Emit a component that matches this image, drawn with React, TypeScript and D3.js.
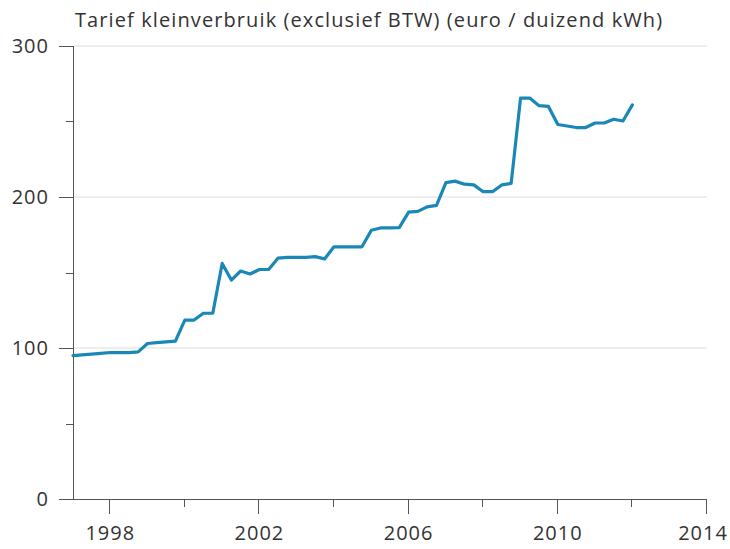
import React from "react";
import * as d3 from "d3";

const title = "Tarief kleinverbruik (exclusief BTW) (euro / duizend kWh)";

const periods = [
  "1997-01", "1997-04", "1997-07", "1997-10",
  "1998-01", "1998-04", "1998-07", "1998-10",
  "1999-01", "1999-04", "1999-07", "1999-10",
  "2000-01", "2000-04", "2000-07", "2000-10",
  "2001-01", "2001-04", "2001-07", "2001-10",
  "2002-01", "2002-04", "2002-07", "2002-10",
  "2003-01", "2003-04", "2003-07", "2003-10",
  "2004-01", "2004-04", "2004-07", "2004-10",
  "2005-01", "2005-04", "2005-07", "2005-10",
  "2006-01", "2006-04", "2006-07", "2006-10",
  "2007-01", "2007-04", "2007-07", "2007-10",
  "2008-01", "2008-04", "2008-07", "2008-10",
  "2009-01", "2009-04", "2009-07", "2009-10",
  "2010-01", "2010-04", "2010-07", "2010-10",
  "2011-01", "2011-04", "2011-07", "2011-10",
  "2012-01",
];

const tariff = [
  95, 95.5, 96, 96.5,
  97, 97, 97, 97.4,
  103, 103.5, 104, 104.5,
  118.5, 118.5, 123, 123,
  156, 145, 151, 149,
  152, 152, 159.5, 160,
  160, 160, 160.5, 159,
  167, 167, 167, 167,
  178, 179.5, 179.5, 179.7,
  190, 190.5, 193.5, 194.5,
  209.5, 210.5, 208.5, 208,
  203.5, 203.5, 208, 209,
  265.5, 265.5, 260.5, 260,
  248, 247, 246, 246,
  249, 249, 251.5, 250.3,
  261,
];

const yMajorTicks = [0, 100, 200, 300];
const yMinorTicks = [50, 150, 250];
const xMajorYears = [1998, 2002, 2006, 2010, 2014];
const xMinorYears = [2000, 2004, 2008, 2012];
const xDomainYears = [1997, 2014];

const W = 730;
const H = 549;
const M = { left: 73, right: 23, top: 46, bottom: 50 };
const FONT = "'Open Sans', 'DejaVu Sans', sans-serif";
const AXIS = "#555";
const TEXT = "#333";
const LINE = "#1a88b7";

export default function App() {
  const parse = d3.timeParse("%Y-%m");
  const yearDate = (y: number) => new Date(y, 0, 1);
  const data = periods.map((p, i) => ({ date: parse(p) as Date, value: tariff[i] }));

  const x = d3
    .scaleTime()
    .domain([yearDate(xDomainYears[0]), yearDate(xDomainYears[1])])
    .range([M.left, W - M.right]);
  const y = d3.scaleLinear().domain([0, 300]).range([H - M.bottom, M.top]);

  const line = d3
    .line<{ date: Date; value: number }>()
    .x((d) => x(d.date))
    .y((d) => y(d.value))
    .curve(d3.curveLinear);

  const x0 = M.left;
  const x1 = W - M.right;
  const yb = y(0);
  const labelHalf = 24;

  return (
    <svg
      width={W}
      height={H}
      style={{ position: "absolute", left: 0, top: 0, background: "#fff" }}
      fontFamily={FONT}
    >
      <text x={75} y={27} fontSize={20} letterSpacing={1.1} fill={TEXT}>
        {title}
      </text>

      {yMajorTicks
        .filter((t) => t > 0)
        .map((t) => (
          <line key={"g" + t} x1={x0} x2={x1} y1={y(t)} y2={y(t)} stroke="#dcdcdc" strokeWidth={1} />
        ))}

      {/* y axis */}
      <line x1={x0 + 0.5} x2={x0 + 0.5} y1={y(300)} y2={yb} stroke={AXIS} strokeWidth={1} />
      {yMajorTicks.map((t) => (
        <g key={"yt" + t}>
          <line x1={x0 - 14} x2={x0} y1={Math.round(y(t)) + 0.5} y2={Math.round(y(t)) + 0.5} stroke={AXIS} />
          <text x={x0 - 24} y={y(t)} dy="0.36em" textAnchor="end" fontSize={20} letterSpacing={1} fill={TEXT}>
            {t}
          </text>
        </g>
      ))}
      {yMinorTicks.map((t) => (
        <line key={"ym" + t} x1={x0 - 7} x2={x0} y1={Math.round(y(t)) + 0.5} y2={Math.round(y(t)) + 0.5} stroke={AXIS} />
      ))}

      {/* x axis */}
      <line x1={x0} x2={x1} y1={yb + 0.5} y2={yb + 0.5} stroke={AXIS} strokeWidth={1} />
      {xMajorYears.map((yr) => {
        const px = x(yearDate(yr));
        const lx = Math.min(px, W - 3 - labelHalf);
        return (
          <g key={"xt" + yr}>
            <line
              x1={Math.round(px) - 0.5}
              x2={Math.round(px) - 0.5}
              y1={yb}
              y2={yb + 15}
              stroke={AXIS}
            />
            <text x={lx} y={yb + 41} textAnchor="middle" fontSize={20} letterSpacing={1} fill={TEXT}>
              {yr}
            </text>
          </g>
        );
      })}
      {xMinorYears.map((yr) => (
        <line
          key={"xm" + yr}
          x1={Math.round(x(yearDate(yr))) - 0.5}
          x2={Math.round(x(yearDate(yr))) - 0.5}
          y1={yb}
          y2={yb + 8}
          stroke={AXIS}
        />
      ))}

      <path
        d={line(data) || ""}
        fill="none"
        stroke={LINE}
        strokeWidth={3.2}
        strokeLinejoin="round"
        strokeLinecap="round"
      />
    </svg>
  );
}
